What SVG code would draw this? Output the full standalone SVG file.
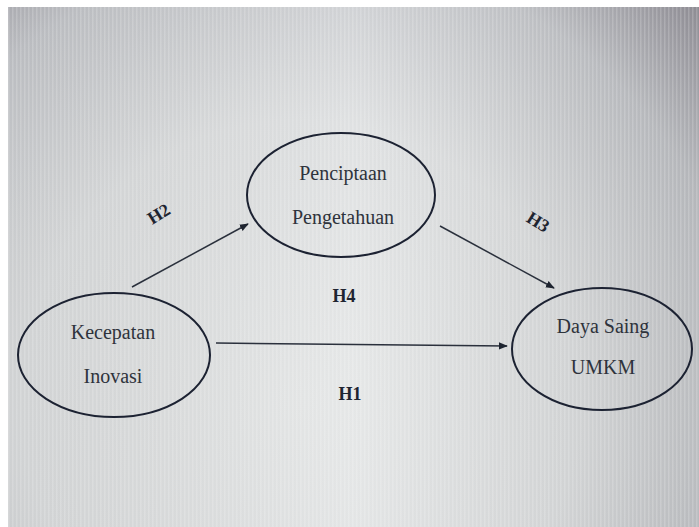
<svg xmlns="http://www.w3.org/2000/svg" width="699" height="527" viewBox="0 0 699 527">
  <defs>
    <radialGradient id="bg" cx="300" cy="400" r="560" gradientUnits="userSpaceOnUse">
      <stop offset="0" stop-color="#e4e6e6"/>
      <stop offset="0.5" stop-color="#dcdedf"/>
      <stop offset="0.8" stop-color="#c4c6ca"/>
      <stop offset="1" stop-color="#9a98a0"/>
    </radialGradient>
    <linearGradient id="shade" x1="0" y1="0" x2="1" y2="0">
      <stop offset="0" stop-color="#000" stop-opacity="0.05"/>
      <stop offset="0.5" stop-color="#fff" stop-opacity="0.1"/>
      <stop offset="1" stop-color="#000" stop-opacity="0.08"/>
    </linearGradient>
    <pattern id="stripes" width="4" height="4" patternUnits="userSpaceOnUse">
      <rect x="0" y="0" width="1.5" height="4" fill="#ffffff" fill-opacity="0.18"/>
    </pattern>
    <marker id="arr" viewBox="0 0 10 10" refX="9" refY="5" markerWidth="9" markerHeight="9" markerUnits="userSpaceOnUse" orient="auto">
      <path d="M0,1 L10,5 L0,9 Z" fill="#1e2430"/>
    </marker>
    <style>
      .node ellipse { fill: none; stroke: #1c2232; stroke-width: 2; }
      .lbl { font-family: "Liberation Serif", "Times New Roman", serif; font-size: 20px; fill: #2e333c; text-anchor: middle; }
      .h { font-family: "Liberation Serif", "Times New Roman", serif; font-size: 18px; font-weight: bold; fill: #1e2430; text-anchor: middle; }
      .edge { stroke: #2a303c; stroke-width: 1.5; fill: none; marker-end: url(#arr); }
    </style>
  </defs>
  <rect x="0" y="0" width="699" height="527" fill="#ffffff"/>
  <rect x="8" y="7" width="691" height="520" fill="url(#bg)"/>
  <rect x="8" y="7" width="691" height="520" fill="url(#shade)"/>
  <rect x="8" y="7" width="691" height="520" fill="url(#stripes)"/>

  <g id="connectors">
    <line class="edge" x1="132" y1="287" x2="248" y2="224"/>
    <line class="edge" x1="440" y1="226" x2="554" y2="288"/>
    <line class="edge" x1="216" y1="343" x2="507" y2="346"/>
  </g>

  <g id="labels">
    <text class="h" transform="translate(162,219) rotate(-32)">H2</text>
    <text class="h" transform="translate(535,227) rotate(32)">H3</text>
    <text class="h" x="344" y="302">H4</text>
    <text class="h" x="350" y="400">H1</text>
  </g>

  <g id="penciptaan" class="node">
    <ellipse cx="341" cy="195" rx="94" ry="62"/>
    <text class="lbl" x="343" y="180">Penciptaan</text>
    <text class="lbl" x="343" y="224">Pengetahuan</text>
  </g>

  <g id="kecepatan" class="node">
    <ellipse cx="114" cy="355" rx="96" ry="62"/>
    <text class="lbl" x="113" y="339">Kecepatan</text>
    <text class="lbl" x="113" y="383">Inovasi</text>
  </g>

  <g id="dayasaing" class="node">
    <ellipse cx="602" cy="349" rx="90" ry="61"/>
    <text class="lbl" x="603" y="333">Daya Saing</text>
    <text class="lbl" x="603" y="374">UMKM</text>
  </g>
</svg>
